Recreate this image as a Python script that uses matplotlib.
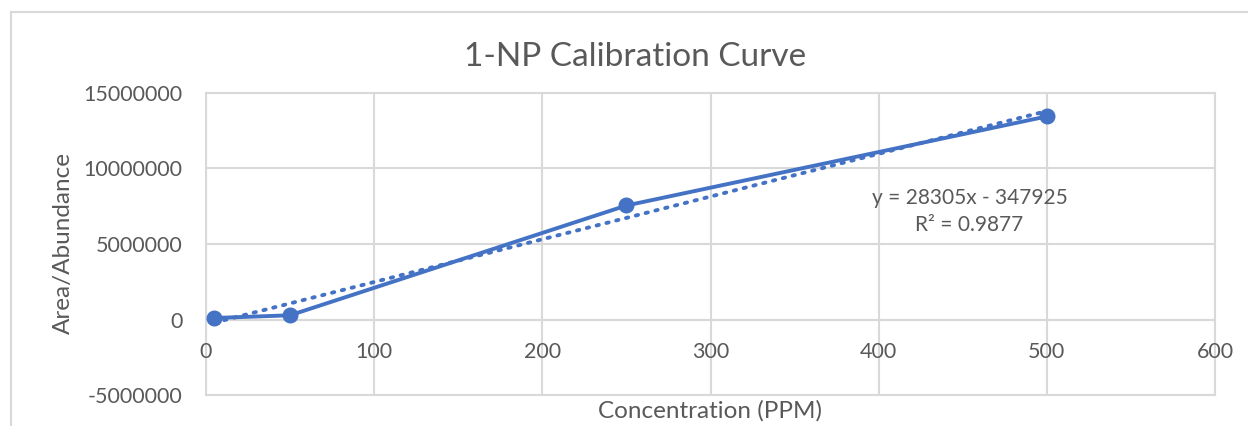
import matplotlib
matplotlib.use("Agg")
import matplotlib.pyplot as plt
import numpy as np
from matplotlib.patches import Rectangle

# Data
concentration = [5, 50, 250, 500]
abundance = [100000, 280000, 7550000, 13450000]
trend_slope = 28305
trend_intercept = -347925
r_squared = 0.9877
x_ticks = [0, 100, 200, 300, 400, 500, 600]
y_ticks = [-5000000, 0, 5000000, 10000000, 15000000]

W, H = 1248, 426
fig = plt.figure(figsize=(W / 100, H / 100), dpi=100)
plt.rcParams['font.family'] = ['Lato', 'DejaVu Sans']

# outer chart border
fig.patches.append(Rectangle((11 / W, -0.1), 1.2, (H - 12) / H + 0.1, transform=fig.transFigure,
                             fill=False, edgecolor='#d9d9d9', linewidth=1.5, zorder=0))

left, right, top, bottom = 206, 1215, 93, 395
ax = fig.add_axes([left / W, 1 - bottom / H, (right - left) / W, (bottom - top) / H])
ax.set_xlim(0, 600)
ax.set_ylim(-5000000, 15000000)
ax.set_xticks(x_ticks)
ax.set_yticks(y_ticks)
ax.set_yticklabels([str(v) for v in y_ticks])
ax.grid(True, color='#d9d9d9', linewidth=1.5, zorder=0)
for s in ax.spines.values():
    s.set_color('#d9d9d9')
    s.set_linewidth(1.5)
ax.axhline(0, color='#bfbfbf', linewidth=1.5, zorder=1)
ax.tick_params(length=0, labelsize=15.5, labelcolor='#595959')
ax.tick_params(axis='y', pad=17)
# x tick labels just below zero line
ax.set_xticklabels([])
for xv in x_ticks:
    ax.text(xv, -1500000, str(xv), ha='center', va='top', fontsize=15.5, color='#595959')

color = '#4472C4'
ax.plot(concentration, abundance, color=color, linewidth=2.8, marker='o', markersize=10.5, zorder=4)
xt = np.array([concentration[0], concentration[-1]])
ax.plot(xt, trend_slope * xt + trend_intercept, color=color, linewidth=2.8,
        linestyle=(0, (0.6, 2.0)), dash_capstyle='round', zorder=3)

ax.text(454, 7150000, f"y = {trend_slope}x - {abs(trend_intercept)}\nR² = {r_squared}",
        ha='center', va='center', fontsize=15, color='#595959', linespacing=1.4)

fig.text(635 / W, 1 - 57 / H, "1-NP Calibration Curve", ha='center', va='center',
         fontsize=24, color='#595959')
fig.text(710 / W, 1 - 411 / H, "Concentration (PPM)", ha='center', va='center', fontsize=17.5, color='#595959')
fig.text(63 / W, 1 - 243 / H, "Area/Abundance", ha='center', va='center', rotation=90, fontsize=17.5, color='#595959')

fig.savefig("out.png", dpi=100)
